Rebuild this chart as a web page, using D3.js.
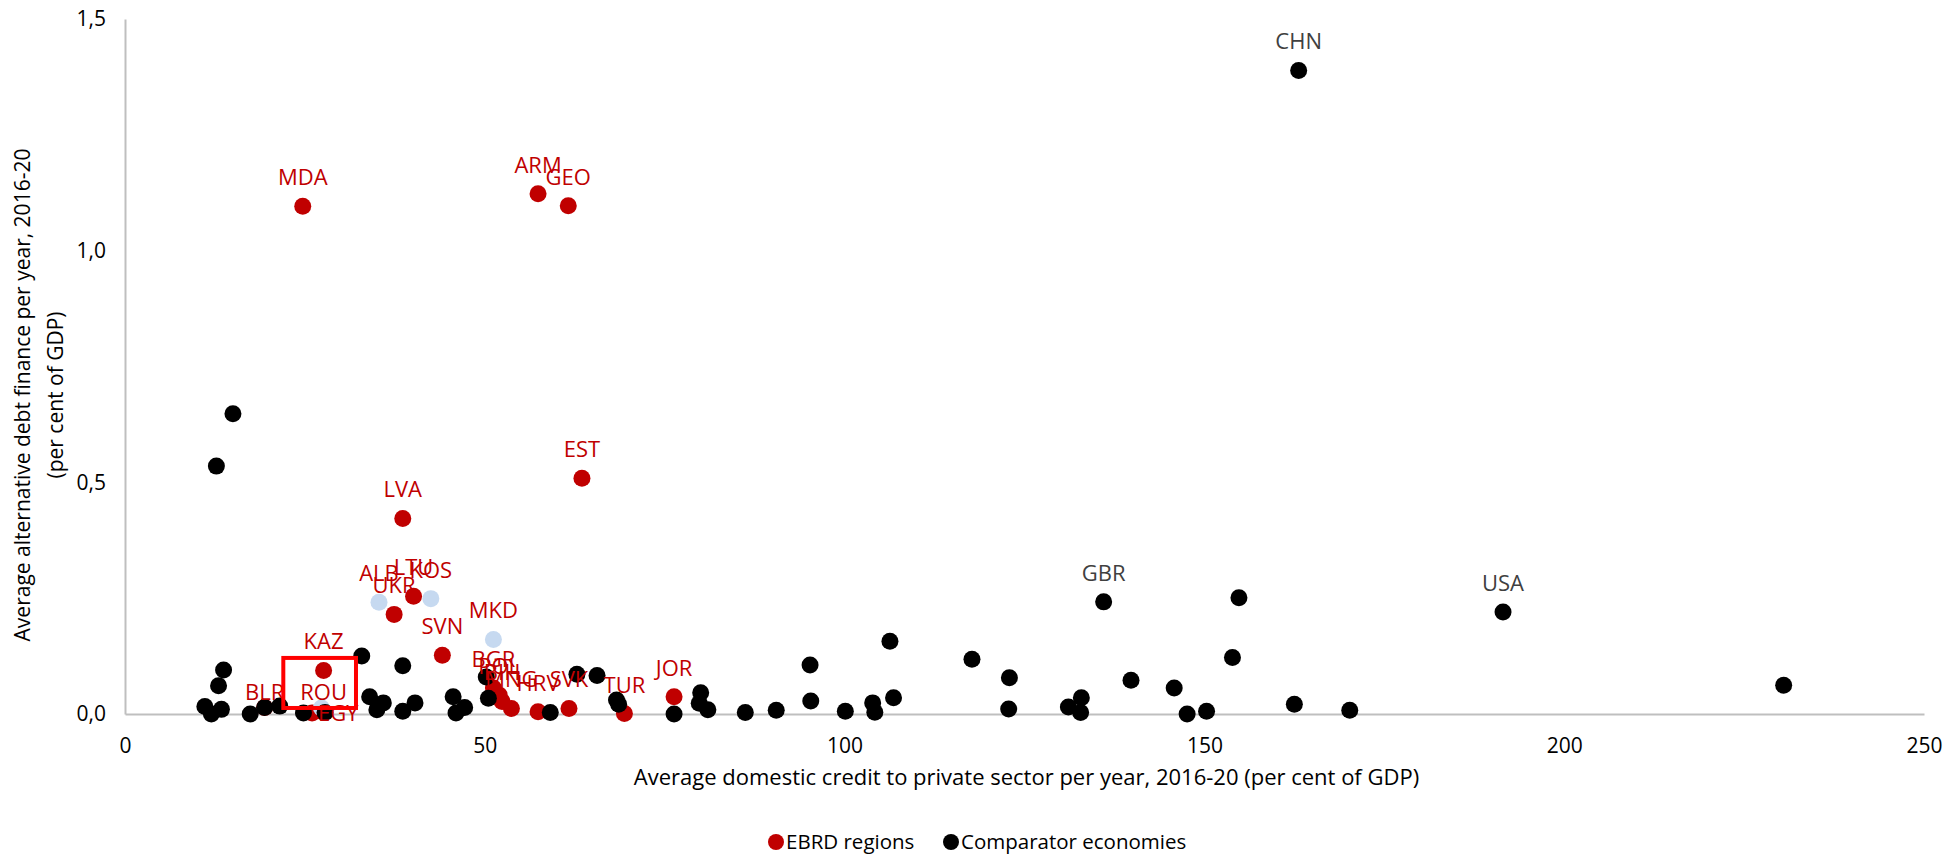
<!DOCTYPE html>
<html>
<head>
<meta charset="utf-8">
<script src="https://cdn.jsdelivr.net/npm/d3@7"></script>
<style>
  html, body { margin: 0; padding: 0; background: #fff; }
  svg { display: block; font-family: "Open Sans", "Noto Sans", sans-serif; }
</style>
</head>
<body>
<svg id="chart" width="1959" height="856"></svg>
<script>
// ---------------- data ----------------
const xTicks = [0, 50, 100, 150, 200, 250];
const yTicks = [0, 0.5, 1.0, 1.5];
const xTitle = "Average domestic credit to private sector per year, 2016-20 (per cent of GDP)";
const yTitleLines = ["Average alternative debt finance per year, 2016-20", "(per cent of GDP)"];
const seriesNames = ["EBRD regions", "Comparator economies"];

// EBRD regions (red)
const ebrdCodes = ["MDA","ARM","GEO","EST","LVA","UKR","LTU","SVN","KAZ","BGR","POL","BIH","MNG","HRV","SVK","TUR","JOR","BLR","ROU","EGY"];
const ebrdX =     [24.7, 57.4, 61.6, 63.5, 38.6, 37.4, 40.1, 44.1, 27.6, 51.2, 52.0, 52.4, 53.7, 57.4, 61.7, 69.4, 76.3, 19.4, 27.6, 26.0];
const ebrdY =     [1.096,1.123,1.097,0.509,0.422,0.215,0.254,0.127,0.094,0.056,0.041,0.027,0.012,0.005,0.012,0.001,0.037,0.014,0.003,0.002];

// EBRD regions highlighted (light blue)
const hlCodes = ["ALB","KOS","MKD",""];
const hlX =     [35.3, 42.5, 51.2, 27.3];
const hlY =     [0.241,0.249,0.161,0.013];

// Comparator economies (black)
const compCodes = ["","","","","","","","","","","","","","","","","","","","","","","","","","","","","","","","","","","","","","","","","","","","","","","","","GBR","","","","","","","","CHN","","USA",""];
const compX = [11.1,12.0,13.4,13.0,13.7,12.7,15.0,17.4,19.4,21.5,24.8,27.8,32.9,34.0,35.0,35.9,38.6,38.6,40.3,45.6,46.0,47.2,50.5,50.2,59.1,62.8,65.6,68.3,68.6,76.3,80.0,79.8,81.0,86.2,90.5,95.2,95.3,100.1,103.9,104.2,106.3,106.8,117.7,122.9,122.8,131.1,132.9,132.8,136.0,139.8,145.8,147.6,150.3,153.9,154.8,162.5,163.1,170.2,191.5,230.5];
const compY = [0.016,0.000,0.010,0.061,0.095,0.535,0.648,0.000,0.014,0.017,0.002,0.003,0.125,0.037,0.009,0.024,0.104,0.006,0.024,0.037,0.002,0.014,0.034,0.080,0.003,0.086,0.083,0.030,0.021,0.000,0.046,0.023,0.009,0.003,0.008,0.106,0.028,0.006,0.024,0.004,0.157,0.035,0.118,0.078,0.011,0.015,0.035,0.003,0.242,0.073,0.056,0.000,0.006,0.122,0.251,0.021,1.389,0.008,0.220,0.062];

// highlight box around Kazakhstan/Romania (data units)
const boxX = [22.0, 32.1];
const boxY = [0.013, 0.121];

// label placement exceptions
const labelRight = ["EGY"];
const labelShift = {"BLR": 13, "ROU": 8};

// ---------------- chart ----------------
const svg = d3.select("#chart");
const mLeft = 125, mRight = 1924, mTop = 19, mBottom = 714;

const x = d3.scaleLinear().domain([0, 250]).range([mLeft, mRight]);
const y = d3.scaleLinear().domain([0, 1.5]).range([mBottom, mTop]);

const RED = "#c00000", LIGHT = "#c6d9f0", BLACK = "#000000";
const fmtY = v => d3.format(".1f")(v).replace(".", ",");

// axes
const gx = svg.append("g").attr("transform", `translate(0,${mBottom})`)
  .call(d3.axisBottom(x).tickValues(xTicks).tickSize(0).tickPadding(24).tickFormat(d3.format("d")));
gx.select(".domain").attr("stroke", "#bfbfbf").attr("stroke-width", 2);
gx.selectAll("text").attr("font-size", 21).attr("fill", "#000").attr("font-family", "Open Sans");

const gy = svg.append("g").attr("transform", `translate(${mLeft},0)`)
  .call(d3.axisLeft(y).tickValues(yTicks).tickSize(0).tickPadding(19).tickFormat(fmtY));
gy.select(".domain").attr("stroke", "#bfbfbf").attr("stroke-width", 2);
gy.selectAll("text").attr("font-size", 21).attr("fill", "#000").attr("font-family", "Open Sans");

// axis titles
svg.append("text").attr("x", (mLeft + mRight) / 2 + 2).attr("y", 785)
  .attr("text-anchor", "middle").attr("font-size", 22).attr("fill", "#000").text(xTitle);

const yt = svg.append("text").attr("transform", `translate(30,395) rotate(-90)`)
  .attr("text-anchor", "middle").attr("font-size", 21).attr("fill", "#000");
yTitleLines.forEach((t, i) => yt.append("tspan").attr("x", 0).attr("dy", i === 0 ? 0 : 33).text(t));

// data tables
const ebrd = ebrdCodes.map((c, i) => ({code: c, x: ebrdX[i], y: ebrdY[i]}));
const hl = hlCodes.map((c, i) => ({code: c, x: hlX[i], y: hlY[i]}));
const comp = compCodes.map((c, i) => ({code: c, x: compX[i], y: compY[i]}));

const R = 8.5;
function dots(data, color) {
  svg.append("g").selectAll("circle").data(data).enter().append("circle")
    .attr("cx", d => x(d.x)).attr("cy", d => y(d.y)).attr("r", R).attr("fill", color);
}
dots(ebrd, RED);
dots(hl, LIGHT);
dots(comp, BLACK);

function labels(data, color) {
  svg.append("g").selectAll("text").data(data.filter(d => d.code)).enter().append("text")
    .attr("x", d => labelRight.includes(d.code) ? x(d.x) + 6 : x(d.x))
    .attr("y", d => labelRight.includes(d.code) ? y(d.y) + 8 : y(d.y) - 21 + (labelShift[d.code] || 0))
    .attr("text-anchor", d => labelRight.includes(d.code) ? "start" : "middle")
    .attr("font-size", 22).attr("fill", color).text(d => d.code);
}
labels(ebrd, RED);
labels(hl, RED);
labels(comp, "#404040");

// highlight box
svg.append("rect")
  .attr("x", x(boxX[0])).attr("y", y(boxY[1]))
  .attr("width", x(boxX[1]) - x(boxX[0])).attr("height", y(boxY[0]) - y(boxY[1]))
  .attr("fill", "none").attr("stroke", "#ff0000").attr("stroke-width", 4);

// legend
const legend = svg.append("g");
const legItems = [{name: seriesNames[0], color: RED, cx: 776}, {name: seriesNames[1], color: BLACK, cx: 951}];
legItems.forEach(it => {
  legend.append("circle").attr("cx", it.cx).attr("cy", 842).attr("r", 8).attr("fill", it.color);
  legend.append("text").attr("x", it.cx + 10).attr("y", 849).attr("font-size", 20.5).attr("fill", "#000").text(it.name);
});
</script>
</body>
</html>
